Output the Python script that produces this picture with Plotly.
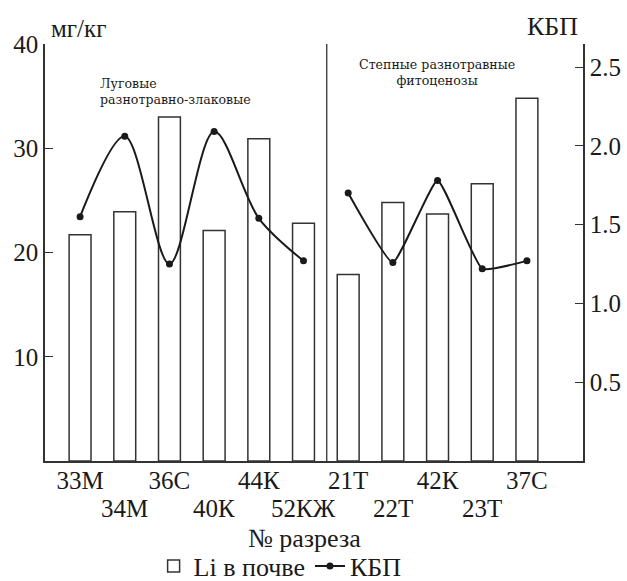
import plotly.graph_objects as go

categories = ["33М", "34М", "36С", "40К", "44К", "52КЖ", "21Т", "22Т", "42К", "23Т", "37С"]
li_soil = [21.7, 23.9, 33.0, 22.1, 30.9, 22.8, 17.9, 24.8, 23.7, 26.6, 34.8]
kbp = [1.55, 2.06, 1.25, 2.09, 1.54, 1.27, 1.70, 1.26, 1.78, 1.22, 1.27]
left_ticks = [10, 20, 30, 40]
right_ticks = [0.5, 1.0, 1.5, 2.0, 2.5]
group1 = list(range(0, 6))
group2 = list(range(6, 11))

FONT = "Liberation Serif, Times New Roman, serif"
NOTE_FONT = "DejaVu Serif, serif"
INK = "#1a1a1a"
xs = list(range(len(categories)))
row1 = [i for i in xs if i % 2 == 0]
row2 = [i for i in xs if i % 2 == 1]

fig = go.Figure()
fig.add_trace(go.Bar(
    x=xs, y=li_soil, width=0.49, name="Li в почве",
    marker=dict(color="white", line=dict(color="#333", width=1.5)),
    yaxis="y", showlegend=True,
))
fig.add_trace(go.Scatter(
    x=[xs[i] for i in group1], y=[kbp[i] for i in group1],
    mode="lines+markers", name="КБП", yaxis="y2",
    line=dict(color=INK, width=2, shape="spline", smoothing=0.9),
    marker=dict(color=INK, size=7), showlegend=True,
))
fig.add_trace(go.Scatter(
    x=[xs[i] for i in group2], y=[kbp[i] for i in group2],
    mode="lines+markers", name="КБП", yaxis="y2",
    line=dict(color=INK, width=2, shape="spline", smoothing=0.4),
    marker=dict(color=INK, size=7), showlegend=False,
))

fig.add_shape(type="line", xref="x", yref="paper", x0=5.52, x1=5.52, y0=0, y1=1,
              line=dict(color="#333", width=1.3))

fig.update_layout(
    width=627, height=581,
    margin=dict(l=45, r=44, t=44, b=120, autoexpand=False),
    plot_bgcolor="white", paper_bgcolor="white",
    font=dict(family=FONT, size=25, color=INK),
    xaxis=dict(
        range=[-0.785, 11.255], tickmode="array", tickvals=row1,
        ticktext=[categories[i] for i in row1],
        tickangle=0, automargin=False, ticklabelstandoff=-4,
        showline=True, linecolor="#333", linewidth=1.5, ticks="", showgrid=False,
        zeroline=False, tickfont=dict(size=25), fixedrange=True,
    ),
    yaxis=dict(
        range=[0, 40], tickvals=left_ticks, ticks="inside", ticklen=8, automargin=False,
        tickcolor="#333", showline=True, linecolor="#333", linewidth=1.5,
        showgrid=False, zeroline=False, tickfont=dict(size=25),
    ),
    yaxis2=dict(
        range=[0, 2.646], overlaying="y", side="right", tickvals=right_ticks,
        tickformat=".1f", ticks="inside", ticklen=8, tickcolor="#333", automargin=False,
        showline=True, linecolor="#333", linewidth=1.5, showgrid=False,
        zeroline=False, tickfont=dict(size=25),
    ),
    legend=dict(orientation="h", x=0.437, y=-0.252, xanchor="center", yanchor="middle",
                font=dict(size=26), bgcolor="rgba(0,0,0,0)"),
)

# second row of category labels
for i in row2:
    fig.add_annotation(text=categories[i], xref="x", yref="paper", x=xs[i], y=-0.115,
                       xanchor="center", yanchor="middle", showarrow=False, font=dict(size=25))

def note(text, x, y, size, xanchor="center", align="center", family=FONT):
    fig.add_annotation(text=text, xref="paper", yref="paper", x=x, y=y,
                       xanchor=xanchor, yanchor="middle", align=align, showarrow=False,
                       font=dict(size=size, family=family))

note("мг/кг", 0.0074, 1.036, 25, "left")
note("КБП", 0.944, 1.043, 26)
note("Луговые<br>разнотравно-злаковые", 0.0985, 0.885, 12.6, "left", "left", NOTE_FONT)
note("Степные разнотравные<br>фитоценозы", 0.7277, 0.931, 12.6, "center", "center", NOTE_FONT)
note("№ разреза", 0.483, -0.185, 26)

fig.write_html("out.html", config={"displayModeBar": False},
               post_script="document.body.style.margin='0';")
